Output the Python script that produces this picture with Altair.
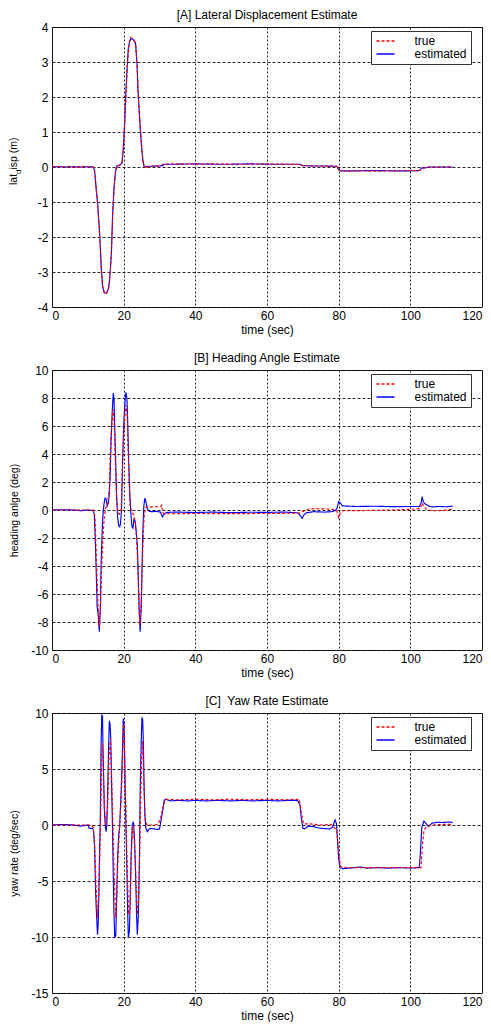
import altair as alt
import pandas as pd

FONT = "Liberation Sans"

# ---------------- data (time [s], value) ----------------
# [A] lateral displacement (m)
a_est = [(0, 0.0), (2, 0.01), (4, 0.0), (6, 0.01), (8, 0.0), (10, 0.01), (11.5, 0.0), (11.9, -0.1),
         (12.3, -0.6), (12.7, -1.0), (13.1, -1.6), (13.4, -2.1), (13.7, -2.8), (14.1, -3.4), (14.6, -3.6),
         (15.2, -3.6), (15.7, -3.5), (16.0, -3.3), (16.3, -2.9), (16.6, -2.4), (16.9, -1.4), (17.3, -0.6),
         (17.7, -0.15), (18.0, 0.02), (18.8, 0.05), (19.5, 0.1), (19.9, 0.5), (20.3, 1.3), (20.6, 2.1),
         (21.0, 2.9), (21.3, 3.4), (21.7, 3.6), (22.0, 3.67), (22.7, 3.64), (23.3, 3.55), (23.7, 3.0),
         (24.0, 2.2), (24.4, 1.5), (24.7, 1.0), (25.0, 0.55), (25.4, 0.15), (25.8, 0.0), (27, 0.02),
         (30, 0.03), (31.0, 0.04), (31.3, 0.08), (35, 0.08), (40, 0.09), (45, 0.08), (50, 0.08), (55, 0.09),
         (60, 0.08), (65, 0.08), (69.3, 0.08), (69.8, 0.04), (73, 0.03), (76, 0.03), (79.5, 0.02),
         (80.0, -0.08), (80.6, -0.11), (85, -0.11), (90, -0.1), (95, -0.11), (100, -0.11), (102.6, -0.1),
         (103.1, -0.03), (104.5, -0.02), (105.2, 0.0), (108, 0.0), (111.8, 0.0)]
a_true = [(0, 0.0), (1.5, 0.02), (3, 0.0), (5, 0.01), (7, -0.01), (9, 0.01), (11.5, 0.0), (12.0, -0.2),
          (12.4, -0.7), (12.8, -1.2), (13.2, -1.8), (13.5, -2.3), (13.8, -3.0), (14.2, -3.45), (14.7, -3.62),
          (15.3, -3.6), (15.8, -3.45), (16.1, -3.2), (16.4, -2.8), (16.7, -2.1), (17.0, -1.2), (17.4, -0.5),
          (17.8, -0.1), (18.2, 0.03), (19.0, 0.06), (19.6, 0.15), (20.0, 0.7), (20.4, 1.5), (20.8, 2.4),
          (21.1, 3.0), (21.5, 3.5), (21.9, 3.7), (22.3, 3.68), (22.9, 3.62), (23.4, 3.45), (23.8, 2.8),
          (24.1, 2.0), (24.5, 1.3), (24.9, 0.8), (25.2, 0.35), (25.6, 0.05), (26.0, -0.03), (27.5, 0.02),
          (30, 0.03), (31.2, 0.08), (35, 0.09), (40, 0.08), (45, 0.09), (50, 0.08), (55, 0.08), (60, 0.09),
          (65, 0.08), (69.3, 0.07), (70, 0.04), (74, 0.03), (79.5, 0.02), (80.2, -0.1), (82, -0.12),
          (86, -0.11), (91, -0.12), (96, -0.11), (102.6, -0.1), (103.2, -0.04), (105, 0.0), (108, 0.0),
          (111.8, 0.0)]

# [B] heading angle (deg)
b_est = [(0, 0.0), (3, 0.02), (6, 0.0), (8, -0.05), (10, 0.0), (11.5, -0.05), (11.8, -0.3), (12.0, -1.5),
         (12.3, -4.0), (12.6, -6.9), (12.9, -7.5), (13.2, -8.7), (13.5, -7.0), (13.7, -4.0), (14.0, -1.5),
         (14.2, -0.4), (14.5, 0.4), (14.8, 0.85), (15.1, 0.8), (15.4, 0.3), (15.7, 0.5), (15.9, 0.9),
         (16.2, 2.2), (16.5, 5.0), (16.8, 7.0), (17.1, 8.35), (17.3, 8.0), (17.6, 5.0), (17.8, 3.2),
         (18.0, 1.2), (18.3, -0.5), (18.6, -1.1), (18.9, -1.2), (19.1, -1.0), (19.4, 0.0), (19.7, 3.5),
         (20.0, 6.0), (20.3, 7.5), (20.6, 8.4), (20.9, 8.0), (21.1, 6.5), (21.4, 3.5), (21.7, 1.2),
         (22.0, -0.2), (22.3, -1.2), (22.6, -1.3), (22.9, -0.6), (23.2, -0.8), (23.5, -1.5), (23.8, -2.5),
         (24.1, -5.0), (24.3, -7.0), (24.6, -8.7), (24.9, -7.0), (25.1, -4.5), (25.3, -2.0), (25.6, 0.2),
         (25.9, 0.85), (26.2, 0.6), (26.6, 0.1), (27.2, -0.1), (28, -0.12), (29, -0.1), (30.3, -0.15),
         (30.8, -0.5), (31.3, -0.3), (32, -0.17), (35, -0.15), (40, -0.18), (45, -0.15), (50, -0.19),
         (55, -0.16), (60, -0.17), (65, -0.15), (68.5, -0.2), (69.3, -0.4), (69.8, -0.6), (70.3, -0.35),
         (71, -0.2), (73, -0.12), (76, -0.15), (78, -0.12), (79, -0.05), (79.5, 0.1), (80, 0.6),
         (80.5, 0.5), (81, 0.3), (82, 0.28), (85, 0.25), (90, 0.27), (95, 0.24), (100, 0.25), (102.5, 0.25),
         (103, 0.5), (103.3, 0.95), (103.6, 0.6), (104, 0.45), (105, 0.3), (106, 0.22), (108, 0.25),
         (110, 0.23), (111.8, 0.28)]
b_true = [(0, 0.0), (4, 0.0), (8, 0.0), (11.5, 0.0), (12.0, -0.5), (12.4, -3.7), (12.8, -6.5), (13.2, -8.3),
          (13.5, -7.0), (13.8, -4.5), (14.2, -2.0), (14.6, -0.5), (15.0, 0.2), (15.5, 0.3), (16.0, 1.5),
          (16.4, 5.0), (16.8, 6.5), (17.1, 7.2), (17.4, 6.0), (17.7, 3.2), (18.0, 1.0), (18.4, -0.2),
          (18.8, -0.3), (19.3, 0.0), (19.7, 3.3), (20.1, 6.0), (20.6, 7.5), (21.0, 6.7), (21.4, 3.0),
          (21.8, 0.3), (22.3, -0.2), (22.8, -0.3), (23.3, -1.0), (23.8, -3.0), (24.2, -6.0), (24.5, -8.2),
          (24.9, -6.5), (25.3, -3.0), (25.7, -0.5), (26.1, 0.2), (26.7, 0.2), (28, 0.22), (30.4, 0.25),
          (30.6, 0.35), (30.9, -0.2), (31.5, -0.27), (40, -0.25), (50, -0.26), (60, -0.25), (69, -0.22),
          (70, -0.1), (71.5, 0.05), (73, 0.1), (76, 0.08), (78.5, 0.05), (79.5, -0.1), (80, -0.55),
          (80.3, -0.3), (81, -0.05), (85, -0.05), (90, -0.02), (95, 0.0), (100, 0.05), (102.8, 0.1),
          (103.2, 0.5), (103.7, 0.3), (104.5, 0.05), (106, -0.05), (108, -0.05), (110, 0.0), (111.8, 0.05)]

# [C] yaw rate (deg/sec)
c_est = [(0, 0.0), (3, 0.05), (6, 0.0), (8, -0.1), (10, 0.0), (10.4, -0.3), (11.3, -0.3), (11.6, -0.5),
         (11.9, -2.0), (12.2, -6.3), (12.5, -8.5), (12.7, -9.8), (12.9, -8.8), (13.1, -6.0), (13.3, -2.0),
         (13.5, 1.0), (13.7, 7.3), (13.9, 9.8), (14.1, 9.7), (14.2, 7.3), (14.4, 4.5), (14.6, 1.4),
         (14.9, -0.2), (15.1, -0.6), (15.3, 0.0), (15.5, 2.5), (15.8, 7.0), (16.0, 9.3), (16.2, 9.0),
         (16.4, 7.7), (16.6, 4.0), (16.9, -0.5), (17.1, -4.5), (17.3, -8.0), (17.5, -10.0), (17.8, -9.9),
         (18.0, -7.0), (18.3, -3.0), (18.6, -1.0), (18.9, 0.0), (19.3, 3.0), (19.6, 6.0), (19.9, 9.5),
         (20.1, 9.0), (20.3, 5.5), (20.6, 0.5), (20.9, -4.0), (21.1, -7.5), (21.3, -10.0), (21.6, -9.5),
         (21.9, -5.5), (22.1, -2.5), (22.4, 0.0), (22.7, 0.3), (23.0, -1.0), (23.3, -4.0), (23.6, -8.0),
         (23.8, -9.8), (24.1, -8.0), (24.4, -3.0), (24.6, 3.0), (24.9, 7.5), (25.1, 9.6), (25.3, 9.4),
         (25.5, 7.3), (25.7, 3.5), (25.9, 1.0), (26.2, -0.3), (26.6, -0.6), (27.0, -0.4), (27.5, -0.3),
         (28.5, -0.35), (29.5, -0.4), (30.0, -0.35), (30.3, 0.2), (30.7, 0.9), (31.0, 1.5), (31.3, 2.2),
         (31.7, 2.3), (33, 2.15), (35, 2.2), (38, 2.15), (40, 2.2), (43, 2.15), (46, 2.2), (50, 2.15),
         (53, 2.2), (56, 2.15), (60, 2.2), (63, 2.15), (66, 2.2), (68.5, 2.2), (69.2, 1.8), (69.6, 0.6),
         (70.0, -0.3), (70.5, -0.35), (71.5, -0.1), (73, -0.15), (75, -0.3), (77.5, -0.35), (78.3, -0.2),
         (79.0, 0.45), (79.4, 0.1), (79.7, -1.5), (80.0, -3.0), (80.4, -3.8), (81, -3.9), (83, -3.85),
         (86, -3.75), (88, -3.85), (91, -3.8), (94, -3.85), (97, -3.8), (100, -3.85), (102.5, -3.8),
         (102.8, -2.5), (103.2, -0.2), (103.8, 0.35), (104.5, 0.1), (105.0, -0.15), (106.0, 0.15),
         (107.5, 0.25), (109, 0.22), (111, 0.27), (111.8, 0.2)]
c_true = [(0, 0.0), (5, 0.0), (10, 0.0), (11, 0.0), (11.5, -0.2), (11.9, -1.8), (12.3, -5.5), (12.7, -8.3),
          (13.0, -6.5), (13.3, -3.0), (13.6, 1.0), (13.9, 6.5), (14.1, 7.3), (14.3, 5.0), (14.6, 1.8),
          (15.0, 0.0), (15.5, 1.5), (15.9, 6.0), (16.3, 7.7), (16.6, 5.0), (17.0, 0.0), (17.4, -5.0),
          (17.8, -8.3), (18.1, -6.5), (18.4, -3.0), (18.9, 0.0), (19.4, 3.0), (19.8, 7.0), (20.0, 9.0),
          (20.3, 6.0), (20.7, 0.0), (21.0, -4.0), (21.4, -8.0), (21.8, -7.5), (22.1, -3.0), (22.5, 0.0),
          (23.0, -1.5), (23.5, -5.5), (23.9, -8.0), (24.2, -6.5), (24.6, 0.0), (25.0, 6.0), (25.3, 7.5),
          (25.6, 4.0), (26.0, 0.5), (26.5, 0.0), (28, 0.0), (29.5, 0.05), (30.2, 0.5), (31, 1.6),
          (31.6, 2.3), (35, 2.25), (40, 2.3), (45, 2.25), (50, 2.3), (55, 2.25), (60, 2.3), (65, 2.25),
          (69, 2.3), (69.5, 1.2), (70.2, 0.1), (72, 0.1), (75, 0.0), (78, 0.05), (79.5, -0.5), (80.0, -2.5),
          (80.5, -3.7), (82, -3.8), (86, -3.8), (90, -3.8), (95, -3.8), (100, -3.8), (103, -3.8),
          (103.3, -2.0), (103.8, -0.5), (104.5, -0.15), (106, 0.0), (109, 0.05), (111.8, 0.05)]

x_ticks = [0, 20, 40, 60, 80, 100, 120]
a_ticks = [-4, -3, -2, -1, 0, 1, 2, 3, 4]
b_ticks = [-10, -8, -6, -4, -2, 0, 2, 4, 6, 8, 10]
c_ticks = [-15, -10, -5, 0, 5, 10]

series_names = ["true", "estimated"]
series_colors = ["#ff0000", "#0000ff"]
series_dash = [[3, 2], [1, 0]]


def frame(est, true):
    rows = [{"time": t, "value": v, "series": "estimated"} for t, v in est]
    rows += [{"time": t, "value": v, "series": "true"} for t, v in true]
    return pd.DataFrame(rows)


W, H = 430, 280
LABEL_EXPR = "'' + datum.value"


def panel(df, title, ydom, yticks, ytitle):
    legend = alt.Legend(
        title=None, orient="none", legendX=319, legendY=4,
        symbolType="M-2,0H2", symbolSize=81, symbolStrokeWidth=1.6, symbolOffset=4.5,
        labelOffset=23, labelFont=FONT, labelFontSize=12, labelColor="black",
        padding=4, rowPadding=1, strokeColor="#333333", fillColor="white", cornerRadius=0,
    )
    yaxis_kw = dict(values=yticks, labelPadding=4, labelExpr=LABEL_EXPR,
                    gridDash=[3, 2], gridColor="black", gridOpacity=0.85)
    if ytitle:
        yaxis_kw.update(title=ytitle, titleX=-35, titleY=H / 2, titleAngle=270,
                        titleAlign="center", titleBaseline="alphabetic", titleFontSize=10.5,
                        titleFontWeight="normal")
    else:
        yaxis_kw.update(title=None)
    lines = alt.Chart(df).mark_line(strokeWidth=1.15).encode(
        x=alt.X("time:Q", scale=alt.Scale(domain=[0, 120], nice=False),
                axis=alt.Axis(values=x_ticks, title="time (sec)", labelPadding=3, labelExpr=LABEL_EXPR,
                              titleY=17, titleBaseline="top", titleFontWeight="normal",
                              gridDash=[2, 2], gridColor="black", gridOpacity=0.85)),
        y=alt.Y("value:Q", scale=alt.Scale(domain=ydom, nice=False), axis=alt.Axis(**yaxis_kw)),
        color=alt.Color("series:N", scale=alt.Scale(domain=series_names, range=series_colors),
                        legend=legend),
        strokeDash=alt.StrokeDash("series:N", scale=alt.Scale(domain=series_names, range=series_dash),
                                  legend=legend),
    )
    return lines.properties(
        width=W, height=H,
        title=alt.TitleParams(title, fontSize=12, fontWeight="normal", font=FONT, color="black", offset=-1),
    )


pA = panel(frame(a_est, a_true), "[A] Lateral Displacement Estimate", [-4, 4], a_ticks, None)

# y-title of [A] with subscript "d" : lat_disp (m)
one = pd.DataFrame({"k": [0]})
ta1 = alt.Chart(one).mark_text(text="lat", angle=270, align="left", baseline="alphabetic",
                               fontSize=10.5, font=FONT, color="black").encode(
    x=alt.value(-35), y=alt.value(158))
ta2 = alt.Chart(one).mark_text(text="d", angle=270, align="left", baseline="alphabetic",
                               fontSize=8, font=FONT, color="black").encode(
    x=alt.value(-31.5), y=alt.value(147))
ta3 = alt.Chart(one).mark_text(text="isp (m)", angle=270, align="left", baseline="alphabetic",
                               fontSize=10.5, font=FONT, color="black").encode(
    x=alt.value(-35), y=alt.value(142.5))
pA = alt.layer(pA, ta1, ta2, ta3)

pB = panel(frame(b_est, b_true), "[B] Heading Angle Estimate", [-10, 10], b_ticks, "heading anlge (deg)")
pC = panel(frame(c_est, c_true), "[C]\u00a0 Yaw Rate Estimate", [-15, 10], c_ticks, "yaw rate (deg/sec)")

chart = alt.vconcat(pA, pB, pC, spacing=63, bounds="flush").resolve_scale(
    color="independent", strokeDash="independent"
).properties(
    padding=0, background="white"
).configure_axis(
    labelFont=FONT, labelFontSize=12, labelColor="black",
    titleFont=FONT, titleFontSize=12, titleColor="black", titleFontWeight="normal",
    domain=False, ticks=False,
    gridColor="black", gridOpacity=0.85, gridWidth=1,
).configure_view(
    stroke="#222222", strokeWidth=1
)

chart.save("out.html", embed_options={"renderer": "svg", "actions": False})
